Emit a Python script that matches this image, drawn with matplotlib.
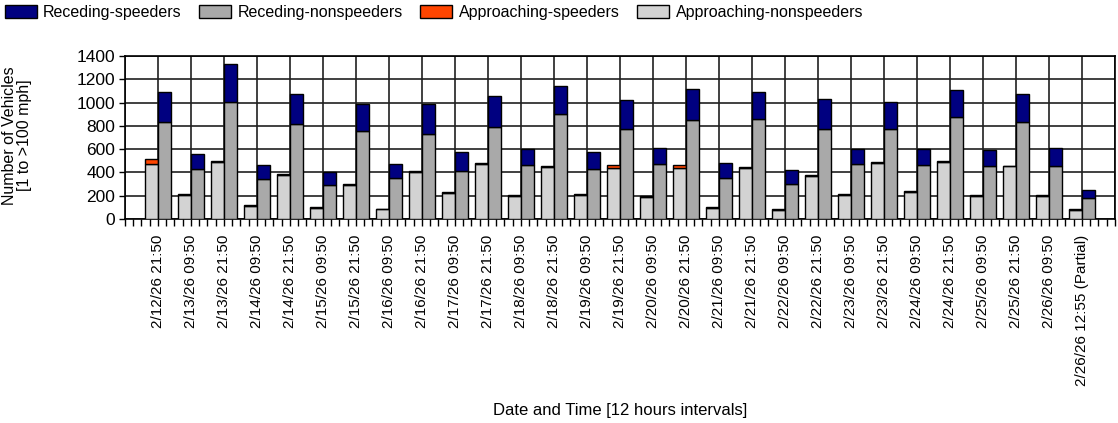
import numpy as np
import matplotlib
matplotlib.use("Agg")
import matplotlib.pyplot as plt
from matplotlib.ticker import MultipleLocator

plt.rcParams['font.family'] = ['Liberation Sans', 'DejaVu Sans']

# categories (12 hour intervals)
labels = ['2/12/26 21:50', '2/13/26 09:50', '2/13/26 21:50', '2/14/26 09:50',
          '2/14/26 21:50', '2/15/26 09:50', '2/15/26 21:50', '2/16/26 09:50',
          '2/16/26 21:50', '2/17/26 09:50', '2/17/26 21:50', '2/18/26 09:50',
          '2/18/26 21:50', '2/19/26 09:50', '2/19/26 21:50', '2/20/26 09:50',
          '2/20/26 21:50', '2/21/26 09:50', '2/21/26 21:50', '2/22/26 09:50',
          '2/22/26 21:50', '2/23/26 09:50', '2/23/26 21:50', '2/24/26 09:50',
          '2/24/26 21:50', '2/25/26 09:50', '2/25/26 21:50', '2/26/26 09:50',
          '2/26/26 12:55 (Partial)']

# approaching direction
appr_nonspeed = [475, 207, 489, 109, 377, 95, 296, 83, 400, 227, 475, 196, 449, 204, 440,
                 193, 440, 92, 440, 81, 365, 207, 480, 230, 486, 196, 452, 198, 81]
appr_speed = [40, 7, 8, 8, 8, 7, 8, 5, 8, 8, 8, 6, 8, 7, 22,
              7, 22, 8, 7, 5, 9, 7, 8, 8, 8, 7, 7, 7, 8]

# receding direction
rec_nonspeed = [831, 428, 1004, 342, 820, 290, 756, 351, 730, 411, 794, 463, 903, 426, 771,
                475, 846, 354, 857, 302, 771, 475, 771, 463, 880, 452, 831, 452, 178]
rec_speed = [262, 133, 325, 124, 250, 116, 236, 124, 262, 164, 261, 135, 239, 149, 250,
             138, 273, 123, 236, 115, 261, 123, 236, 135, 224, 143, 239, 161, 69]

x = np.arange(1, len(labels) + 1)
w = 0.4

fig = plt.figure(figsize=(11.18, 4.23), dpi=100)
ax = fig.add_axes([0.1118, 0.4823, 0.8855, 0.3853])

ax.bar(x - w, appr_nonspeed, width=w, align='edge', color='#d3d3d3', edgecolor='black', linewidth=1, zorder=3,
       label='Approaching-nonspeeders')
ax.bar(x - w, appr_speed, width=w, align='edge', bottom=appr_nonspeed, color='#ff4500', edgecolor='black',
       linewidth=1, zorder=3, label='Approaching-speeders')
ax.bar(x, rec_nonspeed, width=w, align='edge', color='#a9a9a9', edgecolor='black', linewidth=1, zorder=3,
       label='Receding-nonspeeders')
ax.bar(x, rec_speed, width=w, align='edge', bottom=rec_nonspeed, color='#000080', edgecolor='black',
       linewidth=1, zorder=3, label='Receding-speeders')

ax.set_xlim(0, 30)
ax.set_ylim(0, 1400)
ax.yaxis.set_major_locator(MultipleLocator(200))
ax.set_xticks(np.arange(0, 31))
ax.set_xticklabels([''] + labels + [''], rotation=90, fontsize=11)
ax.xaxis.set_minor_locator(MultipleLocator(0.25))
ax.tick_params(axis='x', which='both', length=5, width=1, pad=6)
ax.tick_params(axis='y', length=4, width=1, labelsize=12.5, pad=3)
ax.grid(True, which='major', color='#202020', linewidth=1.2, zorder=1)
for s in ax.spines.values():
    s.set_linewidth(1.2)

fig.text(17 / 1118, 0.68, 'Number of Vehicles\n[1 to >100 mph]', rotation=90, ha='center', va='center',
         fontsize=11.5, linespacing=1.0)
fig.text(620 / 1118, 1 - 410 / 423, 'Date and Time [12 hours intervals]', ha='center', va='center', fontsize=12)

h, l = ax.get_legend_handles_labels()
order = [3, 2, 1, 0]
fig.legend([h[i] for i in order], [l[i] for i in order], loc='upper left', bbox_to_anchor=(0.0, 1.0),
           ncol=4, frameon=False, fontsize=11.5, handlelength=2.0, handleheight=0.85, handletextpad=0.4,
           columnspacing=1.1, borderaxespad=0.1, borderpad=0.2)

fig.savefig('out.png', dpi=100)
